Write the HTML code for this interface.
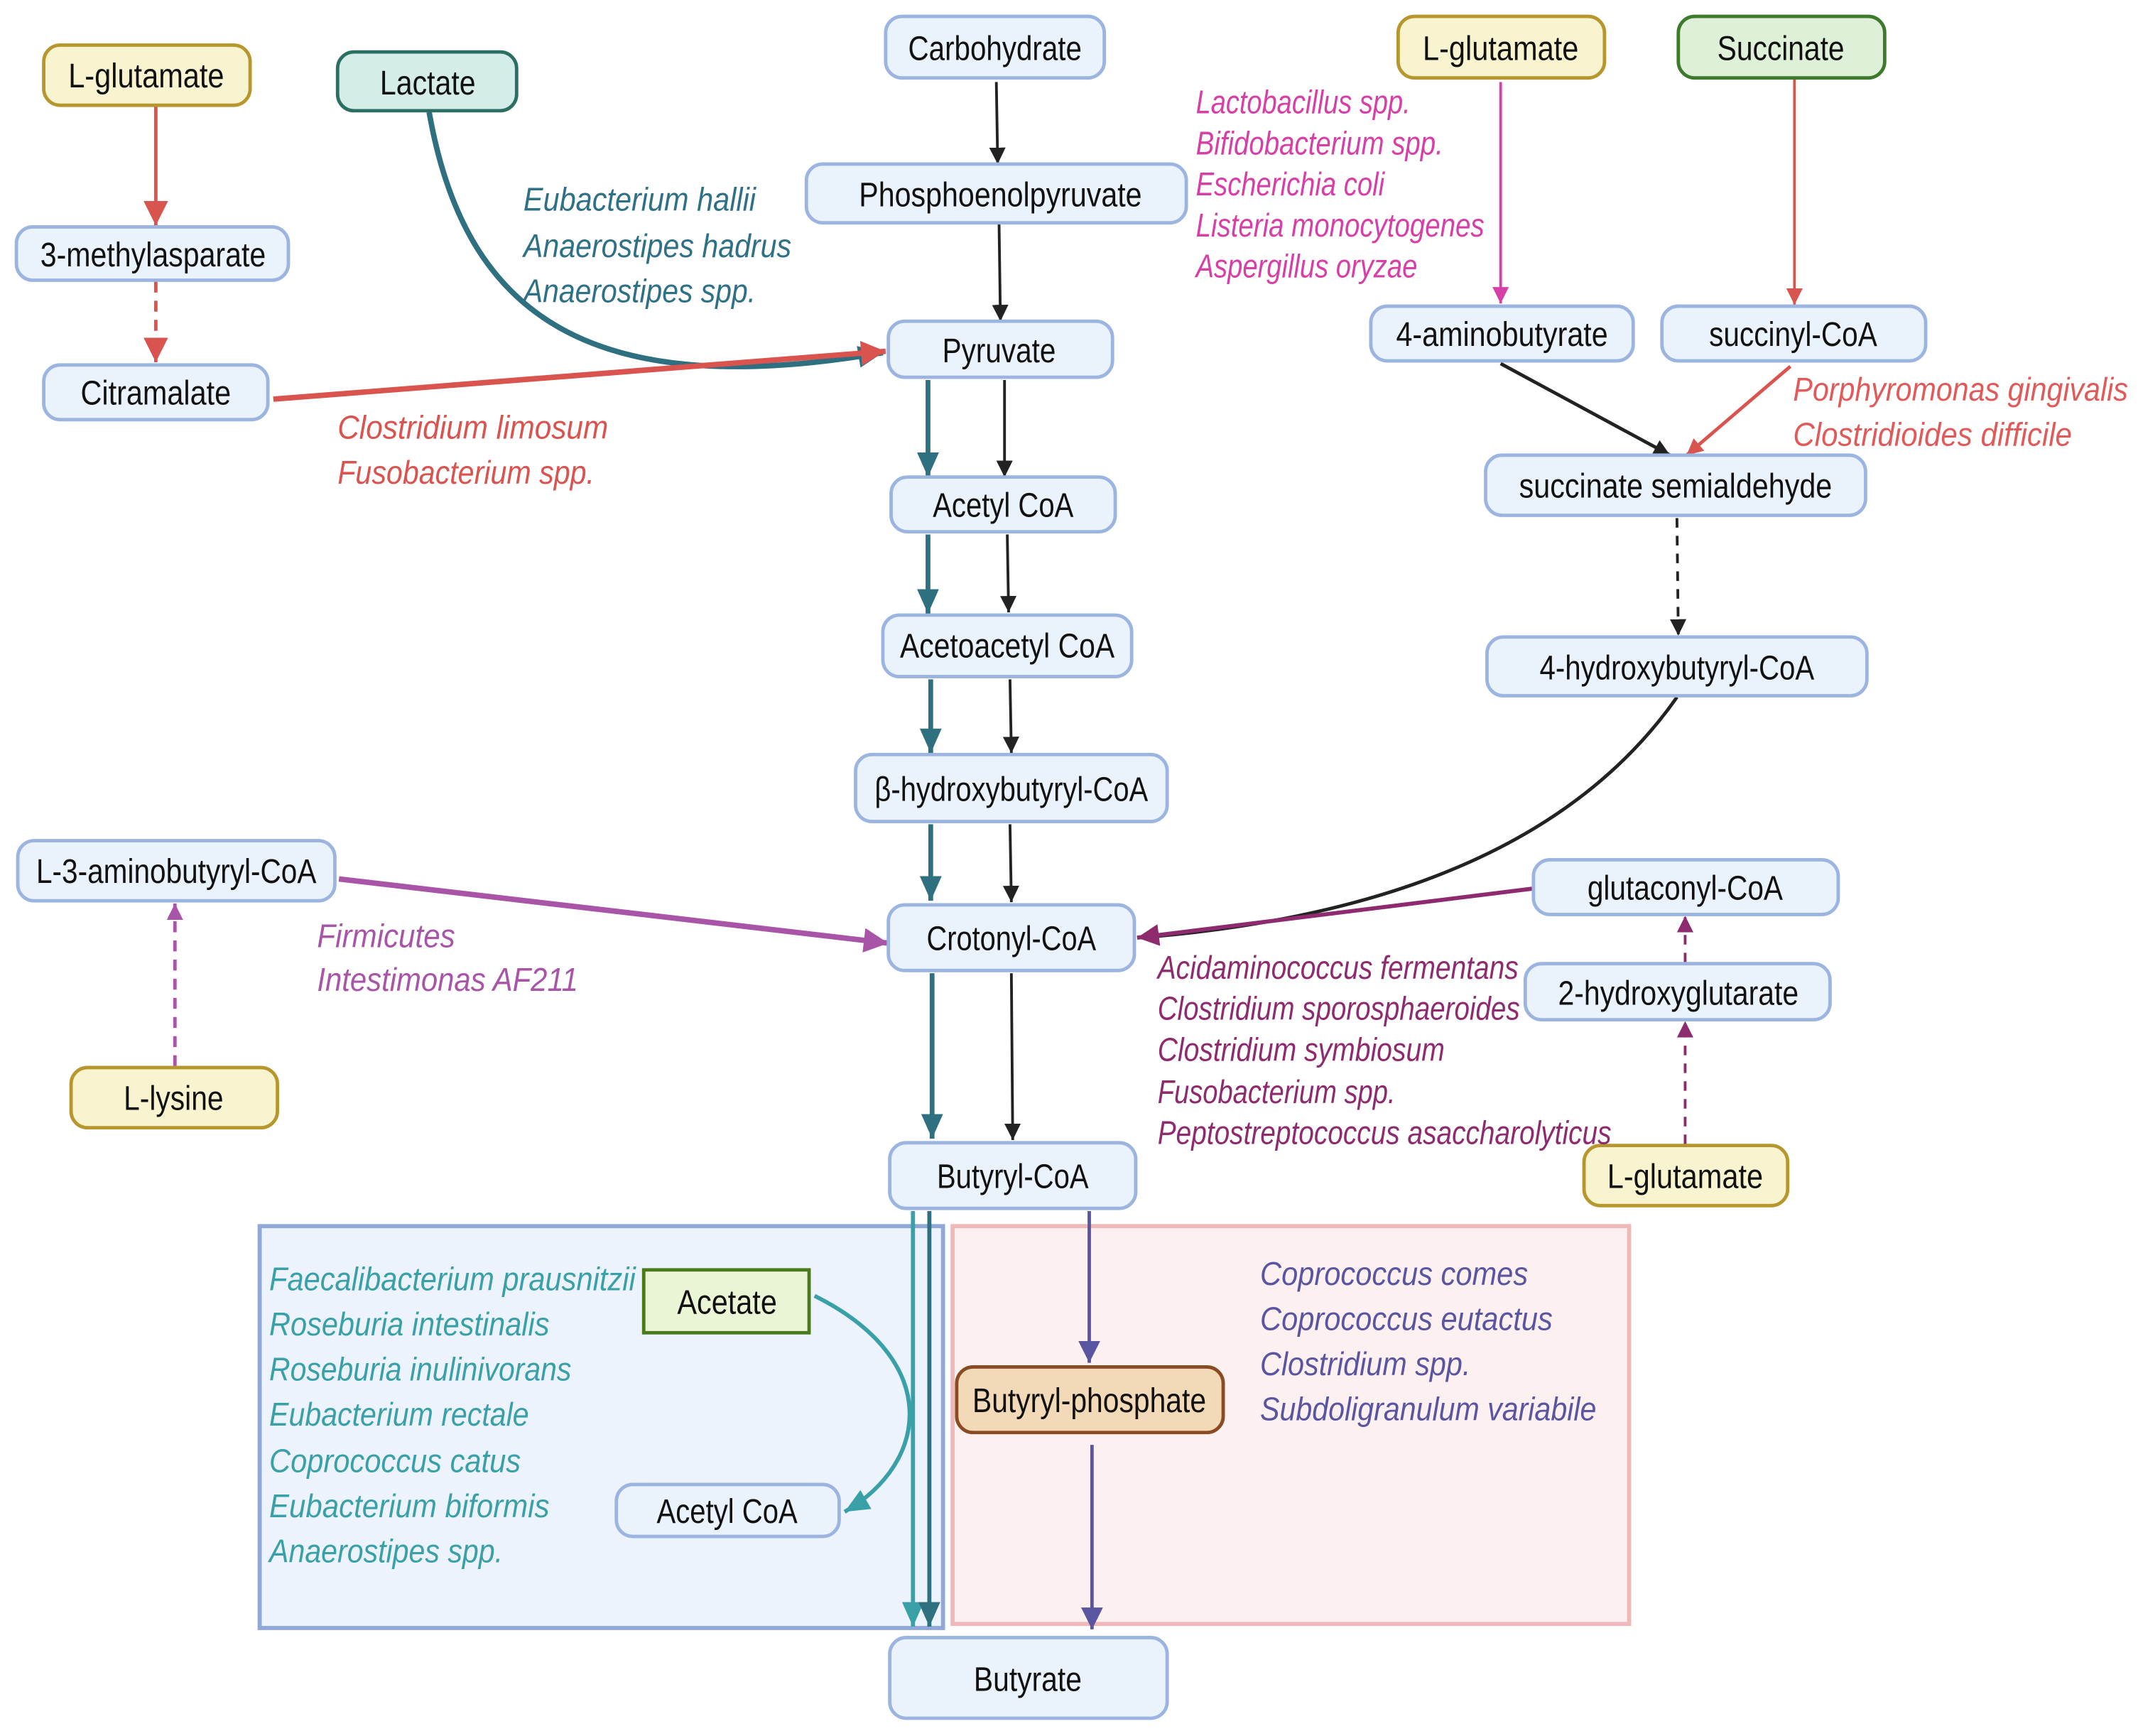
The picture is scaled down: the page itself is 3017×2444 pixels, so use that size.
<!DOCTYPE html>
<html><head><meta charset="utf-8"><style>
html,body{margin:0;padding:0;background:#fff}
svg{display:block}
text{font-family:"Liberation Sans",sans-serif}
.n{font-size:25px;fill:#111;text-anchor:middle}
.i{font-size:24px;font-style:italic}
</style></head><body>
<svg width="3017" height="2444" viewBox="0 0 1568 1270" preserveAspectRatio="none" xmlns="http://www.w3.org/2000/svg">
<defs>
<marker id="mk" markerUnits="userSpaceOnUse" markerWidth="14" markerHeight="14" refX="12" refY="6" orient="auto"><path d="M0,0 L12,6 L0,12 Z" fill="#222"/></marker>
<marker id="mr" markerUnits="userSpaceOnUse" markerWidth="20" markerHeight="20" refX="18" refY="9" orient="auto"><path d="M0,0 L18,9 L0,18 Z" fill="#d9534f"/></marker>
<marker id="mrs" markerUnits="userSpaceOnUse" markerWidth="14" markerHeight="14" refX="12" refY="6" orient="auto"><path d="M0,0 L12,6 L0,12 Z" fill="#d9534f"/></marker>
<marker id="mt" markerUnits="userSpaceOnUse" markerWidth="20" markerHeight="20" refX="18" refY="8" orient="auto"><path d="M0,0 L18,8 L0,16 Z" fill="#2e6f80"/></marker>
<marker id="mlt" markerUnits="userSpaceOnUse" markerWidth="20" markerHeight="20" refX="18" refY="8" orient="auto"><path d="M0,0 L18,8 L0,16 Z" fill="#3aa0a8"/></marker>
<marker id="mm" markerUnits="userSpaceOnUse" markerWidth="14" markerHeight="14" refX="12" refY="6" orient="auto"><path d="M0,0 L12,6 L0,12 Z" fill="#d63fa6"/></marker>
<marker id="mp" markerUnits="userSpaceOnUse" markerWidth="20" markerHeight="20" refX="18" refY="9" orient="auto"><path d="M0,0 L18,9 L0,18 Z" fill="#a855a8"/></marker>
<marker id="mps" markerUnits="userSpaceOnUse" markerWidth="14" markerHeight="14" refX="12" refY="6" orient="auto"><path d="M0,0 L12,6 L0,12 Z" fill="#a855a8"/></marker>
<marker id="md" markerUnits="userSpaceOnUse" markerWidth="18" markerHeight="18" refX="16" refY="8" orient="auto"><path d="M0,0 L16,8 L0,16 Z" fill="#8e2a6e"/></marker>
<marker id="mds" markerUnits="userSpaceOnUse" markerWidth="14" markerHeight="14" refX="12" refY="6" orient="auto"><path d="M0,0 L12,6 L0,12 Z" fill="#8e2a6e"/></marker>
<marker id="mi" markerUnits="userSpaceOnUse" markerWidth="18" markerHeight="18" refX="16" refY="8" orient="auto"><path d="M0,0 L16,8 L0,16 Z" fill="#5a55a0"/></marker>
</defs>

<rect x="190" y="897" width="500" height="294" fill="#edf3fc" stroke="#8fa8d8" stroke-width="3"/>
<rect x="697" y="897" width="495" height="291" fill="#fdf0f0" stroke="#f0b8b8" stroke-width="3"/>

<g fill="none">
<line x1="114" y1="77" x2="114" y2="165" stroke="#d9534f" stroke-width="2.5" marker-end="url(#mr)"/>
<line x1="114" y1="206" x2="114" y2="265" stroke="#d9534f" stroke-width="2.5" stroke-dasharray="8,6" marker-end="url(#mr)"/>
<path d="M314,82 C340,230 430,295 646,258" stroke="#2e6f80" stroke-width="4" marker-end="url(#mt)"/>
<line x1="200" y1="292" x2="648" y2="257" stroke="#d9534f" stroke-width="4" marker-end="url(#mr)"/>
<line x1="729" y1="60" x2="730" y2="120" stroke="#222" stroke-width="2" marker-end="url(#mk)"/>
<line x1="731" y1="164" x2="732" y2="235" stroke="#222" stroke-width="2" marker-end="url(#mk)"/>
<g stroke="#2e6f80" stroke-width="3.5">
<line x1="679" y1="278" x2="679" y2="349" marker-end="url(#mt)"/>
<line x1="679" y1="391" x2="679" y2="449" marker-end="url(#mt)"/>
<line x1="681" y1="497" x2="681" y2="551" marker-end="url(#mt)"/>
<line x1="681" y1="603" x2="681" y2="659" marker-end="url(#mt)"/>
<line x1="682" y1="712" x2="682" y2="833" marker-end="url(#mt)"/>
</g>
<g stroke="#222" stroke-width="2">
<line x1="735" y1="278" x2="735" y2="349" marker-end="url(#mk)"/>
<line x1="737" y1="391" x2="738" y2="448" marker-end="url(#mk)"/>
<line x1="739" y1="497" x2="740" y2="551" marker-end="url(#mk)"/>
<line x1="739" y1="603" x2="740" y2="660" marker-end="url(#mk)"/>
<line x1="740" y1="712" x2="741" y2="834" marker-end="url(#mk)"/>
</g>
<line x1="668" y1="886" x2="668" y2="1190" stroke="#3aa0a8" stroke-width="3" marker-end="url(#mlt)"/>
<line x1="680" y1="886" x2="680" y2="1190" stroke="#2e6f80" stroke-width="3" marker-end="url(#mt)"/>
<line x1="797" y1="886" x2="797" y2="997" stroke="#5a55a0" stroke-width="2.5" marker-end="url(#mi)"/>
<line x1="799" y1="1057" x2="799" y2="1192" stroke="#5a55a0" stroke-width="2.5" marker-end="url(#mi)"/>
<path d="M596,948 C690,995 680,1070 618,1106" stroke="#3aa0a8" stroke-width="3" marker-end="url(#mlt)"/>
<line x1="1098" y1="60" x2="1098" y2="222" stroke="#d63fa6" stroke-width="2" marker-end="url(#mm)"/>
<line x1="1313" y1="58" x2="1313" y2="223" stroke="#d9534f" stroke-width="2" marker-end="url(#mrs)"/>
<line x1="1098" y1="266" x2="1222" y2="333" stroke="#222" stroke-width="2.5" marker-end="url(#mk)"/>
<line x1="1310" y1="268" x2="1234" y2="333" stroke="#d9534f" stroke-width="2.5" marker-end="url(#mrs)"/>
<line x1="1227" y1="379" x2="1228" y2="465" stroke="#222" stroke-width="2" stroke-dasharray="7,6" marker-end="url(#mk)"/>
<path d="M1227,510 C1150,620 1010,672 834,686" stroke="#222" stroke-width="2.5" marker-end="url(#mk)"/>
<line x1="1122" y1="650" x2="832" y2="686" stroke="#8e2a6e" stroke-width="3" marker-end="url(#md)"/>
<line x1="1233" y1="704" x2="1233" y2="670" stroke="#8e2a6e" stroke-width="2" stroke-dasharray="7,6" marker-end="url(#mds)"/>
<line x1="1233" y1="837" x2="1233" y2="747" stroke="#8e2a6e" stroke-width="2" stroke-dasharray="7,6" marker-end="url(#mds)"/>
<line x1="128" y1="780" x2="128" y2="661" stroke="#a855a8" stroke-width="2.5" stroke-dasharray="8,6" marker-end="url(#mps)"/>
<line x1="248" y1="643" x2="650" y2="690" stroke="#a855a8" stroke-width="4" marker-end="url(#mp)"/>
</g>

<g stroke-width="2.5">
<rect x="32" y="33" width="151" height="44" rx="12" fill="#f8f4d0" stroke="#b8962e"/>
<rect x="247" y="38" width="131" height="43" rx="12" fill="#d4ede8" stroke="#2a6e64"/>
<rect x="648" y="12" width="160" height="45" rx="12" fill="#eaf2fc" stroke="#9bb4e0"/>
<rect x="590" y="120" width="278" height="43" rx="12" fill="#eaf2fc" stroke="#9bb4e0"/>
<rect x="650" y="235" width="164" height="41" rx="12" fill="#eaf2fc" stroke="#9bb4e0"/>
<rect x="652" y="349" width="164" height="40" rx="12" fill="#eaf2fc" stroke="#9bb4e0"/>
<rect x="646" y="450" width="182" height="45" rx="12" fill="#eaf2fc" stroke="#9bb4e0"/>
<rect x="626" y="552" width="228" height="49" rx="12" fill="#eaf2fc" stroke="#9bb4e0"/>
<rect x="650" y="662" width="180" height="48" rx="12" fill="#eaf2fc" stroke="#9bb4e0"/>
<rect x="651" y="836" width="180" height="48" rx="12" fill="#eaf2fc" stroke="#9bb4e0"/>
<rect x="651" y="1198" width="203" height="59" rx="12" fill="#eaf2fc" stroke="#9bb4e0"/>
<rect x="12" y="166" width="199" height="39" rx="12" fill="#eaf2fc" stroke="#9bb4e0"/>
<rect x="32" y="267" width="164" height="40" rx="12" fill="#eaf2fc" stroke="#9bb4e0"/>
<rect x="1023" y="12" width="151" height="45" rx="12" fill="#f8f4d0" stroke="#b8962e"/>
<rect x="1228" y="12" width="151" height="45" rx="12" fill="#dff0d8" stroke="#3d7a2c"/>
<rect x="1003" y="224" width="192" height="40" rx="12" fill="#eaf2fc" stroke="#9bb4e0"/>
<rect x="1216" y="224" width="193" height="40" rx="12" fill="#eaf2fc" stroke="#9bb4e0"/>
<rect x="1087" y="333" width="278" height="44" rx="12" fill="#eaf2fc" stroke="#9bb4e0"/>
<rect x="1088" y="466" width="278" height="43" rx="12" fill="#eaf2fc" stroke="#9bb4e0"/>
<rect x="1122" y="629" width="223" height="40" rx="12" fill="#eaf2fc" stroke="#9bb4e0"/>
<rect x="1116" y="705" width="223" height="41" rx="12" fill="#eaf2fc" stroke="#9bb4e0"/>
<rect x="1159" y="838" width="149" height="44" rx="12" fill="#f8f4d0" stroke="#b8962e"/>
<rect x="13" y="615" width="232" height="44" rx="12" fill="#eaf2fc" stroke="#9bb4e0"/>
<rect x="52" y="781" width="151" height="44" rx="12" fill="#f8f4d0" stroke="#b8962e"/>
<rect x="471" y="929" width="121" height="46" fill="#eaf5d6" stroke="#4a7a1c"/>
<rect x="451" y="1086" width="163" height="38" rx="12" fill="#eaf2fc" stroke="#9bb4e0"/>
<rect x="700" y="1000" width="195" height="48" rx="12" fill="#f2d9b8" stroke="#8a4a22"/>
</g>

<g class="n">
<text x="107" y="64" textLength="114" lengthAdjust="spacingAndGlyphs">L-glutamate</text>
<text x="313" y="69" textLength="70" lengthAdjust="spacingAndGlyphs">Lactate</text>
<text x="728" y="44" textLength="127" lengthAdjust="spacingAndGlyphs">Carbohydrate</text>
<text x="732" y="151" textLength="207" lengthAdjust="spacingAndGlyphs">Phosphoenolpyruvate</text>
<text x="731" y="265" textLength="83" lengthAdjust="spacingAndGlyphs">Pyruvate</text>
<text x="734" y="378" textLength="103" lengthAdjust="spacingAndGlyphs">Acetyl CoA</text>
<text x="737" y="481" textLength="157" lengthAdjust="spacingAndGlyphs">Acetoacetyl CoA</text>
<text x="740" y="586" textLength="200" lengthAdjust="spacingAndGlyphs">β-hydroxybutyryl-CoA</text>
<text x="740" y="695" textLength="124" lengthAdjust="spacingAndGlyphs">Crotonyl-CoA</text>
<text x="741" y="869" textLength="111" lengthAdjust="spacingAndGlyphs">Butyryl-CoA</text>
<text x="752" y="1237" textLength="79" lengthAdjust="spacingAndGlyphs">Butyrate</text>
<text x="112" y="195" textLength="165" lengthAdjust="spacingAndGlyphs">3-methylasparate</text>
<text x="114" y="296" textLength="110" lengthAdjust="spacingAndGlyphs">Citramalate</text>
<text x="1098" y="44" textLength="114" lengthAdjust="spacingAndGlyphs">L-glutamate</text>
<text x="1303" y="44" textLength="93" lengthAdjust="spacingAndGlyphs">Succinate</text>
<text x="1099" y="253" textLength="155" lengthAdjust="spacingAndGlyphs">4-aminobutyrate</text>
<text x="1312" y="253" textLength="123" lengthAdjust="spacingAndGlyphs">succinyl-CoA</text>
<text x="1226" y="364" textLength="229" lengthAdjust="spacingAndGlyphs">succinate semialdehyde</text>
<text x="1227" y="497" textLength="201" lengthAdjust="spacingAndGlyphs">4-hydroxybutyryl-CoA</text>
<text x="1233" y="658" textLength="143" lengthAdjust="spacingAndGlyphs">glutaconyl-CoA</text>
<text x="1228" y="735" textLength="176" lengthAdjust="spacingAndGlyphs">2-hydroxyglutarate</text>
<text x="1233" y="869" textLength="114" lengthAdjust="spacingAndGlyphs">L-glutamate</text>
<text x="129" y="646" textLength="205" lengthAdjust="spacingAndGlyphs">L-3-aminobutyryl-CoA</text>
<text x="127" y="812" textLength="73" lengthAdjust="spacingAndGlyphs">L-lysine</text>
<text x="532" y="961" textLength="73" lengthAdjust="spacingAndGlyphs">Acetate</text>
<text x="532" y="1114" textLength="103" lengthAdjust="spacingAndGlyphs">Acetyl CoA</text>
<text x="797" y="1033" textLength="171" lengthAdjust="spacingAndGlyphs">Butyryl-phosphate</text>
</g>

<g class="i" fill="#2e7085">
<text x="383" y="154" textLength="170" lengthAdjust="spacingAndGlyphs">Eubacterium hallii</text>
<text x="383" y="188" textLength="196" lengthAdjust="spacingAndGlyphs">Anaerostipes hadrus</text>
<text x="383" y="221" textLength="170" lengthAdjust="spacingAndGlyphs">Anaerostipes spp.</text>
</g>
<g class="i" fill="#d9534f">
<text x="247" y="321" textLength="198" lengthAdjust="spacingAndGlyphs">Clostridium limosum</text>
<text x="247" y="354" textLength="188" lengthAdjust="spacingAndGlyphs">Fusobacterium spp.</text>
</g>
<g class="i" fill="#d63fa6">
<text x="875" y="83" textLength="157" lengthAdjust="spacingAndGlyphs">Lactobacillus spp.</text>
<text x="875" y="113" textLength="181" lengthAdjust="spacingAndGlyphs">Bifidobacterium spp.</text>
<text x="875" y="143" textLength="138" lengthAdjust="spacingAndGlyphs">Escherichia coli</text>
<text x="875" y="173" textLength="211" lengthAdjust="spacingAndGlyphs">Listeria monocytogenes</text>
<text x="875" y="203" textLength="162" lengthAdjust="spacingAndGlyphs">Aspergillus oryzae</text>
</g>
<g class="i" fill="#e05a5a">
<text x="1312" y="293" textLength="245" lengthAdjust="spacingAndGlyphs">Porphyromonas gingivalis</text>
<text x="1312" y="326" textLength="204" lengthAdjust="spacingAndGlyphs">Clostridioides difficile</text>
</g>
<g class="i" fill="#a855a8">
<text x="232" y="693" textLength="101" lengthAdjust="spacingAndGlyphs">Firmicutes</text>
<text x="232" y="725" textLength="191" lengthAdjust="spacingAndGlyphs">Intestimonas AF211</text>
</g>
<g class="i" fill="#8e2a6e">
<text x="847" y="716" textLength="264" lengthAdjust="spacingAndGlyphs">Acidaminococcus fermentans</text>
<text x="847" y="746" textLength="265" lengthAdjust="spacingAndGlyphs">Clostridium sporosphaeroides</text>
<text x="847" y="776" textLength="210" lengthAdjust="spacingAndGlyphs">Clostridium symbiosum</text>
<text x="847" y="807" textLength="174" lengthAdjust="spacingAndGlyphs">Fusobacterium spp.</text>
<text x="847" y="837" textLength="332" lengthAdjust="spacingAndGlyphs">Peptostreptococcus asaccharolyticus</text>
</g>
<g class="i" fill="#3aa0a8">
<text x="197" y="944" textLength="268" lengthAdjust="spacingAndGlyphs">Faecalibacterium prausnitzii</text>
<text x="197" y="977" textLength="205" lengthAdjust="spacingAndGlyphs">Roseburia intestinalis</text>
<text x="197" y="1010" textLength="221" lengthAdjust="spacingAndGlyphs">Roseburia inulinivorans</text>
<text x="197" y="1043" textLength="190" lengthAdjust="spacingAndGlyphs">Eubacterium rectale</text>
<text x="197" y="1077" textLength="184" lengthAdjust="spacingAndGlyphs">Coprococcus catus</text>
<text x="197" y="1110" textLength="205" lengthAdjust="spacingAndGlyphs">Eubacterium biformis</text>
<text x="197" y="1143" textLength="171" lengthAdjust="spacingAndGlyphs">Anaerostipes spp.</text>
</g>
<g class="i" fill="#5a55a0">
<text x="922" y="940" textLength="196" lengthAdjust="spacingAndGlyphs">Coprococcus comes</text>
<text x="922" y="973" textLength="214" lengthAdjust="spacingAndGlyphs">Coprococcus eutactus</text>
<text x="922" y="1006" textLength="154" lengthAdjust="spacingAndGlyphs">Clostridium spp.</text>
<text x="922" y="1039" textLength="246" lengthAdjust="spacingAndGlyphs">Subdoligranulum variabile</text>
</g>
</svg>
</body></html>
